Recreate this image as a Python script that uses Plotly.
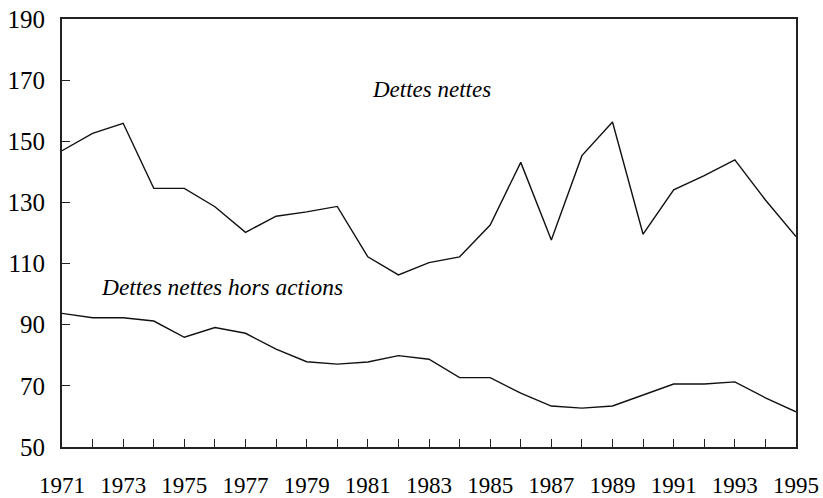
import plotly.graph_objects as go

years = list(range(1971, 1996))
dettes_nettes = [146.9, 152.6, 155.9, 134.6, 134.6, 128.6, 120.2, 125.5, 126.9, 128.7,
                 112.2, 106.3, 110.3, 112.2, 122.6, 143.1, 117.7, 145.3, 156.3, 119.6,
                 134.1, 138.8, 143.9, 130.8, 118.8]
dettes_hors_actions = [93.7, 92.3, 92.3, 91.2, 85.9, 89.1, 87.2, 82.0, 77.9, 77.1,
                       77.8, 79.9, 78.7, 72.7, 72.7, 67.6, 63.4, 62.7, 63.4, 66.9,
                       70.6, 70.6, 71.3, 66.1, 61.5]
x_tickvals = years
x_ticktext = [str(y) if (y - 1971) % 2 == 0 else "" for y in years]
y_tickvals = [50, 70, 90, 110, 130, 150, 170, 190]

FONT = "Liberation Serif"

fig = go.Figure()
fig.add_trace(go.Scatter(x=years, y=dettes_nettes, mode="lines",
                         line=dict(color="#111111", width=1.4), name="Dettes nettes"))
fig.add_trace(go.Scatter(x=years, y=dettes_hors_actions, mode="lines",
                         line=dict(color="#111111", width=1.4), name="Dettes nettes hors actions"))

fig.add_annotation(x=1981.07, y=166.8, xref="x", yref="y", text="<i>Dettes nettes</i>",
                   showarrow=False, xanchor="left", yanchor="middle",
                   font=dict(family=FONT, size=23, color="black"))
fig.add_annotation(x=1972.2, y=102.4, xref="x", yref="y", text="<i>Dettes nettes hors actions</i>",
                   showarrow=False, xanchor="left", yanchor="middle",
                   font=dict(family=FONT, size=23.4, color="black"))

fig.update_layout(
    width=823, height=498,
    margin=dict(l=62, r=27, t=19, b=51, autoexpand=False),
    paper_bgcolor="white", plot_bgcolor="white",
    showlegend=False,
)
fig.update_xaxes(range=[1971, 1995], tickvals=x_tickvals, ticktext=x_ticktext,
                 ticks="inside", ticklen=8, tickwidth=1.2, tickcolor="#222",
                 showline=True, linecolor="#222", linewidth=2, mirror=True,
                 showgrid=False, zeroline=False, automargin=False,
                 tickfont=dict(family=FONT, size=23, color="black"),
                 ticklabelstandoff=16)
fig.update_yaxes(range=[50, 190], tickvals=y_tickvals,
                 ticks="inside", ticklen=8, tickwidth=1.2, tickcolor="#222",
                 showline=True, linecolor="#222", linewidth=2, mirror=True,
                 showgrid=False, zeroline=False, automargin=False,
                 tickfont=dict(family=FONT, size=25, color="black"),
                 ticklabelstandoff=10)

fig.write_html("out.html", config={"displayModeBar": False},
               post_script="document.body.style.margin='0';")
